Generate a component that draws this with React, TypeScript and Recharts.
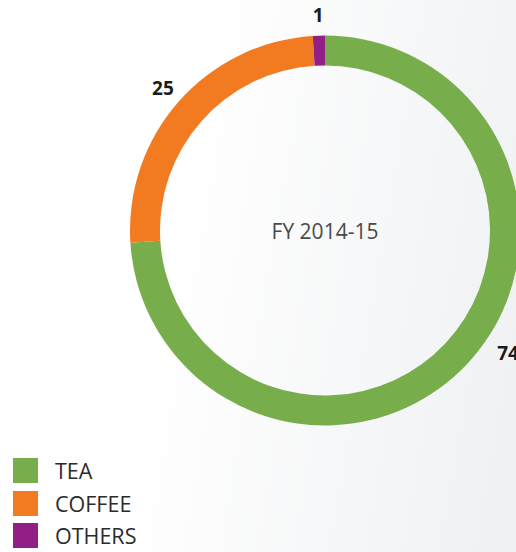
import React from "react";
import { PieChart, Pie, Cell, Legend } from "recharts";

const categories = ["TEA", "COFFEE", "OTHERS"];
const values = [74, 25, 1];
const colors = ["#77ad4b", "#f27a21", "#911f86"];
const centerTitle = "FY 2014-15";

const data = categories.map((name, i) => ({ name, value: values[i] }));

const RAD = Math.PI / 180;

const renderLabel = (props: any) => {
  const { cx, cy, midAngle, outerRadius, value, index } = props;
  const angle = index === 0 ? midAngle + 9.5 : midAngle;
  const r = outerRadius + (index === 0 ? 25 : 21);
  const x = cx + r * Math.cos(-angle * RAD);
  const y = cy + r * Math.sin(-angle * RAD);
  return (
    <text
      x={x}
      y={y}
      textAnchor="middle"
      dominantBaseline="central"
      fill="#1c1c1c"
      fontFamily="'Open Sans', sans-serif"
      fontWeight={700}
      fontSize={19}
    >
      {value}
    </text>
  );
};

const renderLegend = (props: any) => {
  const payload = [...(props.payload || [])].sort(
    (a: any, b: any) => categories.indexOf(a.value) - categories.indexOf(b.value)
  );
  return (
    <div>
      {payload.map((p: any, i: number) => (
        <div key={i} style={{ display: "flex", alignItems: "center", height: 25, marginBottom: 7.5 }}>
          <div style={{ width: 25, height: 25, background: p.color }} />
          <span
            style={{
              marginLeft: 17,
              fontFamily: "'Open Sans', sans-serif",
              fontSize: 21.5,
              color: "#2b2b2b",
              lineHeight: "25px",
            }}
          >
            {p.value}
          </span>
        </div>
      ))}
    </div>
  );
};

export default function App() {
  return (
    <div
      style={{
        position: "fixed",
        left: 0,
        top: 0,
        width: 516,
        height: 552,
        overflow: "hidden",
        background: "linear-gradient(100deg, #ffffff 35%, #eef0f2 100%)",
      }}
    >
      <PieChart width={516} height={552} margin={{ top: 0, right: 0, bottom: 0, left: 0 }}>
        <Pie
          data={data}
          dataKey="value"
          nameKey="name"
          cx={325}
          cy={230.5}
          innerRadius={165}
          outerRadius={195}
          startAngle={90}
          endAngle={-270}
          stroke="none"
          label={renderLabel}
          labelLine={false}
          isAnimationActive={false}
        >
          {data.map((d, i) => (
            <Cell key={d.name} fill={colors[i]} />
          ))}
        </Pie>
        <text
          x={325}
          y={231}
          textAnchor="middle"
          dominantBaseline="central"
          fill="#4a4a4a"
          fontFamily="'Open Sans', sans-serif"
          fontSize={21}
        >
          {centerTitle}
        </text>
        <Legend
          content={renderLegend}
          itemSorter={null as any}
          wrapperStyle={{ position: "absolute", left: 13, top: 458, width: 200, bottom: "auto" }}
        />
      </PieChart>
    </div>
  );
}
